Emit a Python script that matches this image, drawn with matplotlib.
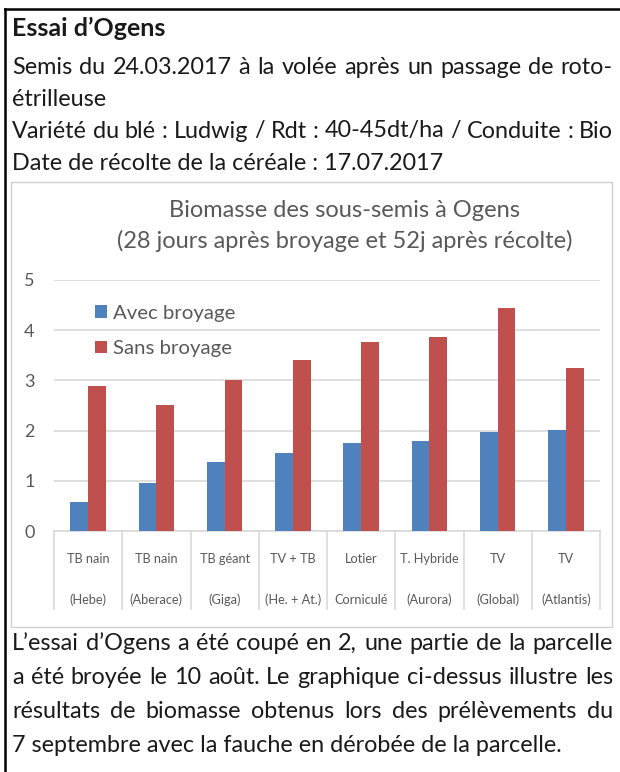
import matplotlib
matplotlib.use("Agg")
import matplotlib.pyplot as plt
from matplotlib.lines import Line2D
from matplotlib.patches import Rectangle
import numpy as np

plt.rcParams["font.family"] = ["Lato", "DejaVu Sans"]

# --- données ---
cat_l1 = ["TB nain", "TB nain", "TB géant", "TV + TB", "Lotier",
          "T. Hybride", "TV", "TV"]
cat_l2 = ["(Hebe)", "(Aberace)", "(Giga)", "(He. + At.)", "Corniculé",
          "(Aurora)", "(Global)", "(Atlantis)"]
avec_broyage = [0.57, 0.95, 1.38, 1.56, 1.76, 1.80, 1.98, 2.02]
sans_broyage = [2.88, 2.50, 3.00, 3.40, 3.76, 3.86, 4.45, 3.24]
y_ticks = [0, 1, 2, 3, 4, 5]

header = ["Semis du 24.03.2017 à la volée après un passage de roto-",
          "étrilleuse",
          "Variété du blé : Ludwig / Rdt : 40-45dt/ha / Conduite : Bio",
          "Date de récolte de la céréale : 17.07.2017"]
header_just = [True, False, True, False]
footer = ["L\u2019essai d\u2019Ogens a été coupé en 2, une partie de la parcelle",
          "a été broyée le 10 août. Le graphique ci-dessus illustre les",
          "résultats de biomasse obtenus lors des prélèvements du",
          "7 septembre avec la fauche en dérobée de la parcelle."]
footer_just = [True, True, True, False]

W, H = 620, 772
BLUE, RED = "#4F81BD", "#C0504D"
GREY = "#595959"
TXT = "#1a1a1a"

fig = plt.figure(figsize=(W / 100, H / 100), dpi=100)
renderer = fig.canvas.get_renderer()


def fx(px):
    return px / W


def fy(py):
    return 1 - py / H


def line_text(txt, y, size, justify, x0=12, x1=613):
    # texte justifié : mots placés un par un entre x0 et x1
    if not justify:
        fig.text(fx(x0), fy(y), txt, fontsize=size, color=TXT, va="center")
        return
    words = txt.split(" ")
    arts = [fig.text(0, fy(y), w, fontsize=size, color=TXT, va="center")
            for w in words]
    widths = [a.get_window_extent(renderer).width for a in arts]
    gap = (x1 - x0 - sum(widths)) / (len(words) - 1)
    pos = x0
    for a, w in zip(arts, widths):
        a.set_x(fx(pos))
        pos += w + gap


# cadre extérieur noir (haut + gauche)
fig.add_artist(Line2D([fx(5), 1], [fy(9), fy(9)], color="black", lw=1.8))
fig.add_artist(Line2D([fx(5), fx(5)], [fy(9), 0], color="black", lw=1.8))
# cadre gris du graphique
fig.add_artist(Rectangle((fx(11), fy(627)), fx(612) - fx(11), fy(182) - fy(627),
                         fill=False, ec="#D0D0D0", lw=1.0))

# textes d'en-tête / bas de page
fig.text(fx(12), fy(28), "Essai d\u2019Ogens", fontsize=18, fontweight="bold",
         color=TXT, va="center")
for txt, y, j in zip(header, [67, 99, 131, 163], header_just):
    line_text(txt, y, 16.8, j)
for txt, y, j in zip(footer, [643, 677, 711, 745], footer_just):
    line_text(txt, y, 16.8, j)

# titre du graphique
fig.text(fx(345), fy(210), "Biomasse des sous-semis à Ogens", fontsize=17,
         color=GREY, ha="center", va="center")
fig.text(fx(345), fy(241), "(28 jours après broyage et 52j après récolte)",
         fontsize=17, color=GREY, ha="center", va="center")

# axes
ax = fig.add_axes([fx(54), fy(531), fx(600) - fx(54), fy(280) - fy(531)])
x = np.arange(len(cat_l1)) + 0.5
bw = 0.26
ax.bar(x - bw / 2, avec_broyage, bw, color=BLUE, label="Avec broyage", zorder=3)
ax.bar(x + bw / 2, sans_broyage, bw, color=RED, label="Sans broyage", zorder=3)
ax.set_xlim(0, len(cat_l1))
ax.set_ylim(0, 5)
ax.set_yticks(y_ticks)
ax.yaxis.grid(True, color="#D9D9D9", lw=1.2, zorder=0)
ax.tick_params(axis="y", length=0, pad=14, labelsize=13, labelcolor=GREY)
ax.set_xticks([])
for s in ["top", "right", "left"]:
    ax.spines[s].set_visible(False)
ax.spines["bottom"].set_color("#D9D9D9")
ax.spines["bottom"].set_linewidth(1.2)

# étiquettes à deux niveaux + séparateurs
trans = ax.get_xaxis_transform()
for i in range(len(cat_l1) + 1):
    ax.add_line(Line2D([i, i], [0, -78 / 251], transform=trans, color="#D9D9D9",
                       lw=1.2, clip_on=False))
for xi, a, b in zip(x, cat_l1, cat_l2):
    ax.text(xi, -28 / 251, a, transform=trans, ha="center", va="center",
            fontsize=9.2, color=GREY)
    ax.text(xi, -69 / 251, b, transform=trans, ha="center", va="center",
            fontsize=9.2, color=GREY)

ax.legend(loc="upper left", bbox_to_anchor=(0.042, 0.975), frameon=False,
          fontsize=14.7, handlelength=0.55, handleheight=0.55, handletextpad=0.3,
          labelspacing=0.9, labelcolor=GREY)

fig.savefig("out.png", dpi=100)
